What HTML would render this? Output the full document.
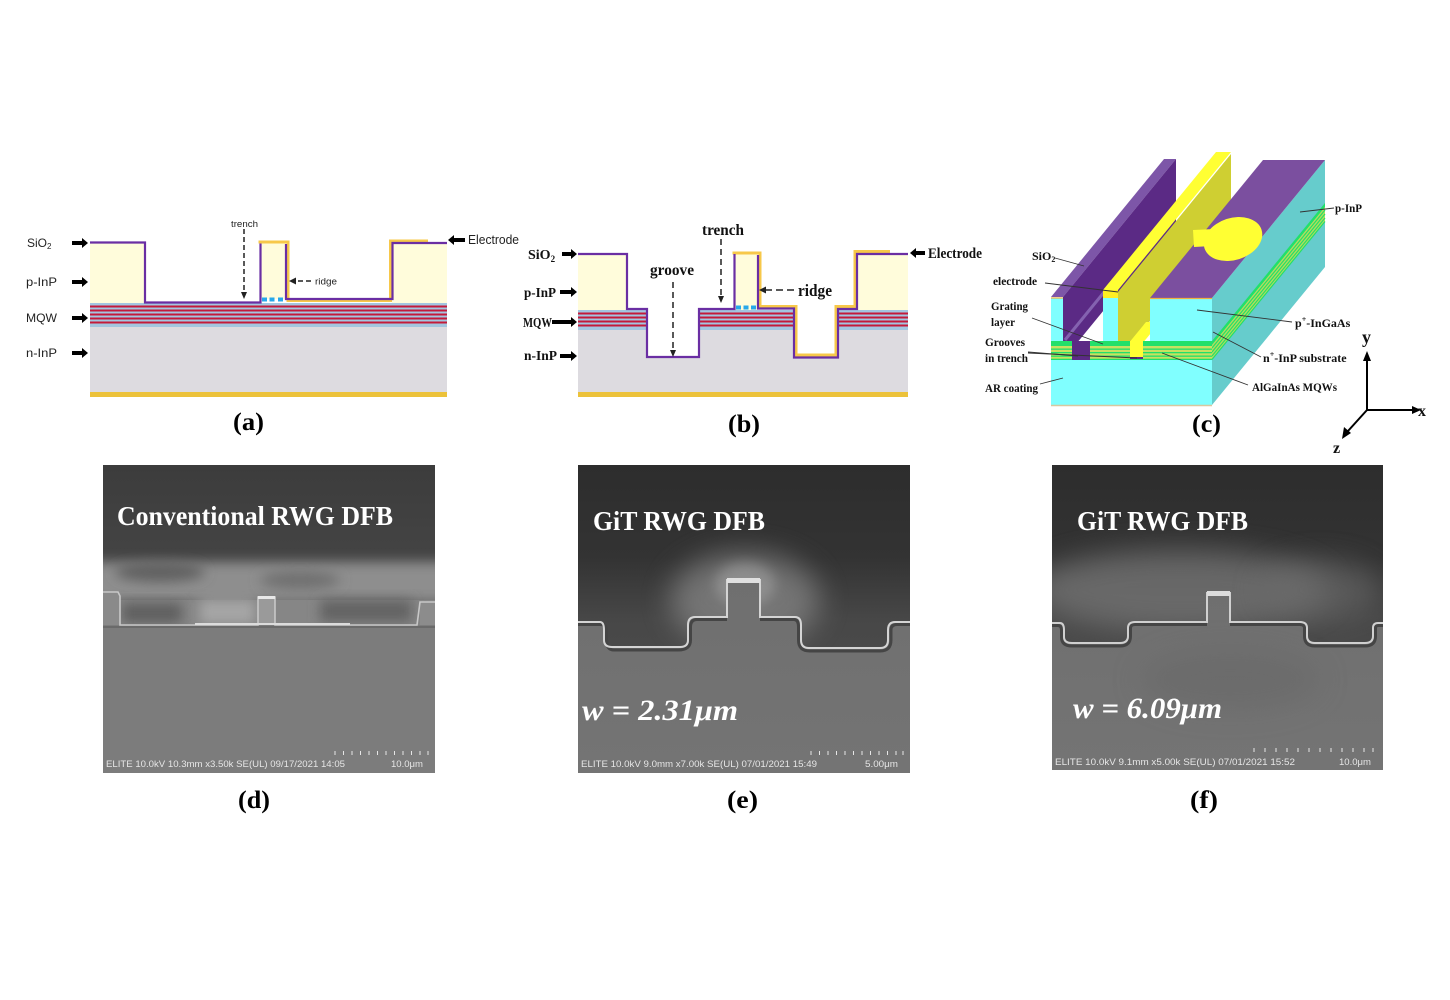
<!DOCTYPE html>
<html>
<head>
<meta charset="utf-8">
<style>
html,body{margin:0;padding:0;background:#fff;}
svg{display:block;}
.sa{font-family:"Liberation Sans",Arial,sans-serif;fill:#222;}
.sb{font-family:"Liberation Serif","Times New Roman",serif;font-weight:bold;fill:#111;}
.lab{font-family:"Liberation Serif","Times New Roman",serif;font-weight:bold;fill:#000;font-size:25px;}
.semt{font-family:"Liberation Sans",Arial,sans-serif;fill:#e6e6e6;font-size:9.5px;}
.semh{font-family:"Liberation Serif","Times New Roman",serif;font-weight:bold;fill:#fff;font-size:27px;}
.semw{font-family:"Liberation Serif","Times New Roman",serif;font-weight:bold;font-style:italic;fill:#fff;font-size:30px;}
</style>
</head>
<body>
<svg width="1450" height="1000" viewBox="0 0 1450 1000" xmlns="http://www.w3.org/2000/svg">
<defs>
  <filter id="b6" x="-50%" y="-50%" width="200%" height="200%"><feGaussianBlur stdDeviation="6"/></filter>
  <filter id="b12" x="-50%" y="-50%" width="200%" height="200%"><feGaussianBlur stdDeviation="14"/></filter>
  <filter id="b2"><feGaussianBlur stdDeviation="1.2"/></filter>
  <linearGradient id="gd" x1="0" y1="0" x2="0" y2="1">
    <stop offset="0" stop-color="#3c3c3c"/><stop offset="0.3" stop-color="#444"/><stop offset="0.45" stop-color="#5a5a5a"/><stop offset="1" stop-color="#5a5a5a"/>
  </linearGradient>
  <linearGradient id="ge" x1="0" y1="0" x2="0" y2="1">
    <stop offset="0" stop-color="#2d2d2d"/><stop offset="0.3" stop-color="#333"/><stop offset="0.5" stop-color="#474747"/><stop offset="1" stop-color="#555"/>
  </linearGradient>
  <linearGradient id="gg" x1="0" y1="0" x2="0" y2="1">
    <stop offset="0" stop-color="#6f6f6f"/><stop offset="1" stop-color="#747474"/>
  </linearGradient>
  <clipPath id="cd"><rect x="103" y="465" width="332" height="308"/></clipPath>
  <clipPath id="ce"><rect x="578" y="465" width="332" height="308"/></clipPath>
  <clipPath id="cf"><rect x="1052" y="465" width="331" height="305"/></clipPath>
</defs>

<!-- ================= (a) ================= -->
<g>
  <rect x="90" y="243" width="55" height="60" fill="#fffcdb"/>
  <rect x="260" y="243" width="26" height="56" fill="#fffcdb"/>
  <rect x="392" y="243" width="55" height="60" fill="#fffcdb"/>
  <rect x="90" y="303" width="357" height="24" fill="#a3c6e0"/>
  <rect x="90" y="305.5" width="357" height="2" fill="#c41a3a"/>
  <rect x="90" y="309.5" width="357" height="2" fill="#c41a3a"/>
  <rect x="90" y="313.5" width="357" height="2" fill="#c41a3a"/>
  <rect x="90" y="317.5" width="357" height="2" fill="#c41a3a"/>
  <rect x="90" y="321.5" width="357" height="2" fill="#c41a3a"/>
  <rect x="90" y="327" width="357" height="65" fill="#dddbe0"/>
  <rect x="90" y="392" width="357" height="5" fill="#ecc23a"/>
  <rect x="262" y="297.5" width="5" height="4" fill="#27a8ea"/>
  <rect x="269.5" y="297.5" width="5" height="4" fill="#27a8ea"/>
  <rect x="278" y="297.5" width="5" height="4" fill="#27a8ea"/>
  <path d="M258.5,242 H288 V300.5 H390.5 V241 H428" fill="none" stroke="#f7c84a" stroke-width="3"/>
  <path d="M90,242.5 H145 V302.5 H260.5 V243.5" fill="none" stroke="#6a2ea3" stroke-width="2.2"/>
  <path d="M286,244 V299 H392.5 V243 H447" fill="none" stroke="#6a2ea3" stroke-width="2.2"/>
  <line x1="244" y1="229" x2="244" y2="292" stroke="#222" stroke-width="1.5" stroke-dasharray="5,3"/>
  <polygon points="241,292 247,292 244,299" fill="#222"/>
  <line x1="311" y1="281" x2="296" y2="281" stroke="#222" stroke-width="1.5" stroke-dasharray="5,3"/>
  <polygon points="296,277.5 296,284.5 289,281" fill="#222"/>
  <polygon points="72,241 82,241 82,238 88,243 82,248 82,245 72,245" fill="#000"/>
  <polygon points="72,280 82,280 82,277 88,282 82,287 82,284 72,284" fill="#000"/>
  <polygon points="72,316 82,316 82,313 88,318 82,323 82,320 72,320" fill="#000"/>
  <polygon points="72,351 82,351 82,348 88,353 82,358 82,355 72,355" fill="#000"/>
  <polygon points="465,238 454,238 454,235 448,240 454,245 454,242 465,242" fill="#000"/>
  <text class="sa" x="27" y="247" font-size="12">SiO<tspan font-size="8" dy="2">2</tspan></text>
  <text class="sa" x="26" y="286" font-size="12" textLength="31" lengthAdjust="spacingAndGlyphs">p-InP</text>
  <text class="sa" x="26" y="322" font-size="12" textLength="31" lengthAdjust="spacingAndGlyphs">MQW</text>
  <text class="sa" x="26" y="357" font-size="12" textLength="31" lengthAdjust="spacingAndGlyphs">n-InP</text>
  <text class="sa" x="468" y="244" font-size="12.5" textLength="51" lengthAdjust="spacingAndGlyphs">Electrode</text>
  <text class="sa" x="231" y="227" font-size="9" textLength="27" lengthAdjust="spacingAndGlyphs">trench</text>
  <text class="sa" x="315" y="284.5" font-size="9.5" textLength="22" lengthAdjust="spacingAndGlyphs">ridge</text>
  <text class="lab" x="233" y="430" textLength="31" lengthAdjust="spacingAndGlyphs">(a)</text>
</g>

<!-- ================= (b) ================= -->
<g>
  <rect x="578" y="254" width="49" height="56" fill="#fffcdb"/>
  <rect x="734" y="254" width="24" height="56" fill="#fffcdb"/>
  <rect x="857" y="254" width="51" height="56" fill="#fffcdb"/>
  <rect x="578" y="310" width="330" height="20" fill="#a3c6e0"/>
  <rect x="578" y="312.5" width="330" height="2" fill="#c41a3a"/>
  <rect x="578" y="316.5" width="330" height="2" fill="#c41a3a"/>
  <rect x="578" y="320.5" width="330" height="2" fill="#c41a3a"/>
  <rect x="578" y="324.5" width="330" height="2" fill="#c41a3a"/>
  <rect x="578" y="330" width="330" height="62" fill="#dddbe0"/>
  <rect x="647" y="308" width="52" height="49" fill="#fff"/>
  <rect x="794" y="308" width="44" height="49" fill="#fff"/>
  <rect x="578" y="392" width="330" height="5" fill="#ecc23a"/>
  <rect x="736" y="305.5" width="5" height="4" fill="#27a8ea"/>
  <rect x="743.5" y="305.5" width="5" height="4" fill="#27a8ea"/>
  <rect x="751" y="305.5" width="5" height="4" fill="#27a8ea"/>
  <path d="M732.5,253 H760 V306.5 H796 V355 H836 V306.5 H855 V251.5 H890" fill="none" stroke="#f7c84a" stroke-width="3"/>
  <path d="M578,254 H627 V309 H647 V357 H699 V309 H734.5 V254" fill="none" stroke="#6a2ea3" stroke-width="2.2"/>
  <path d="M758,255 V308.5 H794 V357.5 H838 V309 H857 V254 H908" fill="none" stroke="#6a2ea3" stroke-width="2.2"/>
  <line x1="673" y1="282" x2="673" y2="350" stroke="#222" stroke-width="1.5" stroke-dasharray="6,4"/>
  <polygon points="670,350 676,350 673,357" fill="#222"/>
  <line x1="721" y1="239" x2="721" y2="296" stroke="#222" stroke-width="1.5" stroke-dasharray="6,4"/>
  <polygon points="718,296 724,296 721,303" fill="#222"/>
  <line x1="794" y1="290" x2="766" y2="290" stroke="#222" stroke-width="1.6" stroke-dasharray="7,4"/>
  <polygon points="766,286.5 766,293.5 759,290" fill="#222"/>
  <polygon points="562,252 571,252 571,249 577,254 571,259 571,256 562,256" fill="#000"/>
  <polygon points="560,290 571,290 571,287 577,292 571,297 571,294 560,294" fill="#000"/>
  <polygon points="552,320 571,320 571,317 577,322 571,327 571,324 552,324" fill="#000"/>
  <polygon points="560,354 571,354 571,351 577,356 571,361 571,358 560,358" fill="#000"/>
  <polygon points="925,251 916,251 916,248 910,253 916,258 916,255 925,255" fill="#000"/>
  <text class="sb" x="528" y="259" font-size="14">SiO<tspan font-size="9" dy="3">2</tspan></text>
  <text class="sb" x="524" y="297" font-size="14" textLength="32" lengthAdjust="spacingAndGlyphs">p-InP</text>
  <text class="sb" x="523" y="327" font-size="14" textLength="29" lengthAdjust="spacingAndGlyphs">MQW</text>
  <text class="sb" x="524" y="360" font-size="14" textLength="33" lengthAdjust="spacingAndGlyphs">n-InP</text>
  <text class="sb" x="928" y="258" font-size="15" textLength="54" lengthAdjust="spacingAndGlyphs">Electrode</text>
  <text class="sb" x="650" y="275" font-size="16" textLength="44" lengthAdjust="spacingAndGlyphs">groove</text>
  <text class="sb" x="702" y="235" font-size="16" textLength="42" lengthAdjust="spacingAndGlyphs">trench</text>
  <text class="sb" x="798" y="296" font-size="17" textLength="34" lengthAdjust="spacingAndGlyphs">ridge</text>
  <text class="lab" x="728" y="432" textLength="32" lengthAdjust="spacingAndGlyphs">(b)</text>
</g>

<!-- ================= (c) ================= -->
<g>
  <polygon points="1212,298 1325,160 1325,267 1212,405" fill="#66cccc"/>
  <polygon points="1212,341 1325,203 1325,207 1212,345" fill="#22e06a"/>
  <polygon points="1212,345 1325,207 1325,221 1212,359" fill="#b8dc5a"/>
  <line x1="1212" y1="348" x2="1325" y2="210" stroke="#22e06a" stroke-width="1.2"/>
  <line x1="1212" y1="352" x2="1325" y2="214" stroke="#22e06a" stroke-width="1.2"/>
  <line x1="1212" y1="356" x2="1325" y2="218" stroke="#22e06a" stroke-width="1.2"/>
  <line x1="1212" y1="359.5" x2="1325" y2="221.5" stroke="#22e06a" stroke-width="1.2"/>
  <polygon points="1051,297 1063,297 1176,159 1164,159" fill="#7d56a8"/>
  <polygon points="1063,297 1176,159 1176,222 1063,360" fill="#5b2a85"/>
  <line x1="1065" y1="340" x2="1105" y2="291" stroke="#8462b0" stroke-width="3"/>
  <polygon points="1118,292 1231,154 1231,222 1118,360" fill="#cfcf32"/>
  <polygon points="1103,290 1118,290 1231,152 1216,152" fill="#ffff33"/>
  <polygon points="1128,344 1142,344 1160,322 1146,322" fill="#ffff33"/>
  <polygon points="1150,298 1212,298 1325,160 1263,160" fill="#7b4f9f"/>
  <polygon points="1193,230 1215,229 1212,246 1194,247" fill="#ffff33"/>
  <ellipse cx="1233" cy="239" rx="30" ry="21" transform="rotate(-18 1233 239)" fill="#ffff33"/>
  <rect x="1051" y="342" width="161" height="63" fill="#80ffff"/>
  <rect x="1051" y="298" width="12" height="44" fill="#80ffff"/>
  <rect x="1103" y="298" width="15" height="44" fill="#80ffff"/>
  <rect x="1150" y="298" width="62" height="44" fill="#80ffff"/>
  <rect x="1103" y="290" width="15" height="8" fill="#ffee22"/>
  <line x1="1051" y1="298" x2="1063" y2="298" stroke="#f0b040" stroke-width="1.2"/>
  <line x1="1150" y1="298.5" x2="1212" y2="298.5" stroke="#f0b040" stroke-width="1.2"/>
  <rect x="1051" y="341" width="161" height="5" fill="#22e06a"/>
  <rect x="1051" y="346" width="161" height="14" fill="#c8e060"/>
  <rect x="1051" y="348.5" width="161" height="1.3" fill="#22e06a"/>
  <rect x="1051" y="352" width="161" height="1.3" fill="#22e06a"/>
  <rect x="1051" y="355.5" width="161" height="1.3" fill="#22e06a"/>
  <rect x="1051" y="358.7" width="161" height="1.3" fill="#22e06a"/>
  <rect x="1072" y="341" width="18" height="19" fill="#5b2a85"/>
  <rect x="1130" y="341" width="13" height="17" fill="#ffff33"/>
  <rect x="1130" y="357" width="13" height="2" fill="#5b2a85"/>
  <line x1="1051" y1="405.5" x2="1212" y2="405.5" stroke="#d8c8a0" stroke-width="1.5"/>
  <g stroke="#333" stroke-width="0.9" fill="none">
    <line x1="1300" y1="212" x2="1334" y2="208"/>
    <line x1="1055" y1="258" x2="1084" y2="266"/>
    <line x1="1045" y1="283" x2="1118" y2="292"/>
    <line x1="1032" y1="318" x2="1103" y2="344"/>
    <line x1="1028" y1="352" x2="1078" y2="356"/>
    <line x1="1028" y1="353" x2="1137" y2="358"/>
    <line x1="1040" y1="384" x2="1063" y2="378"/>
    <line x1="1197" y1="310" x2="1292" y2="322"/>
    <line x1="1213" y1="332" x2="1261" y2="357"/>
    <line x1="1162" y1="353" x2="1248" y2="385"/>
  </g>
  <text class="sb" x="1335" y="212" font-size="12" textLength="27" lengthAdjust="spacingAndGlyphs">p-InP</text>
  <text class="sb" x="1032" y="260" font-size="12">SiO<tspan font-size="8" dy="2">2</tspan></text>
  <text class="sb" x="993" y="285" font-size="12" textLength="44" lengthAdjust="spacingAndGlyphs">electrode</text>
  <text class="sb" x="991" y="310" font-size="12" textLength="37" lengthAdjust="spacingAndGlyphs">Grating</text>
  <text class="sb" x="991" y="326" font-size="12" textLength="24" lengthAdjust="spacingAndGlyphs">layer</text>
  <text class="sb" x="985" y="346" font-size="12" textLength="40" lengthAdjust="spacingAndGlyphs">Grooves</text>
  <text class="sb" x="985" y="362" font-size="12" textLength="43" lengthAdjust="spacingAndGlyphs">in trench</text>
  <text class="sb" x="985" y="392" font-size="12" textLength="53" lengthAdjust="spacingAndGlyphs">AR coating</text>
  <text class="sb" x="1295" y="327" font-size="12">p<tspan font-size="8" dy="-5">+</tspan><tspan dy="5">-InGaAs</tspan></text>
  <text class="sb" x="1263" y="362" font-size="12">n<tspan font-size="8" dy="-5">+</tspan><tspan dy="5">-InP substrate</tspan></text>
  <text class="sb" x="1252" y="391" font-size="12" textLength="85" lengthAdjust="spacingAndGlyphs">AlGaInAs MQWs</text>
  <g stroke="#000" stroke-width="2" fill="none">
    <line x1="1367" y1="410" x2="1367" y2="360"/>
    <line x1="1367" y1="410" x2="1413" y2="410"/>
    <line x1="1367" y1="410" x2="1348" y2="431"/>
  </g>
  <polygon points="1363,361 1371,361 1367,351" fill="#000"/>
  <polygon points="1412,406 1412,414 1421,410" fill="#000"/>
  <polygon points="1344,427 1351,433 1342,439" fill="#000"/>
  <text class="sb" x="1362" y="343" font-size="18">y</text>
  <text class="sb" x="1418" y="416" font-size="16">x</text>
  <text class="sb" x="1333" y="453" font-size="16">z</text>
  <text class="lab" x="1192" y="432" textLength="29" lengthAdjust="spacingAndGlyphs">(c)</text>
</g>

<!-- ================= (d) SEM ================= -->
<g clip-path="url(#cd)">
  <rect x="103" y="465" width="332" height="308" fill="url(#gd)"/>
  <rect x="80" y="562" width="380" height="40" fill="#8e8e8e" filter="url(#b6)"/>
  <ellipse cx="160" cy="572" rx="45" ry="10" fill="#606060" filter="url(#b6)"/>
  <ellipse cx="300" cy="580" rx="40" ry="9" fill="#707070" filter="url(#b6)"/>
  <rect x="103" y="600" width="332" height="25" fill="#868686"/>
  <rect x="122" y="603" width="60" height="20" fill="#5e5e5e" filter="url(#b6)"/>
  <rect x="320" y="600" width="92" height="22" fill="#646464" filter="url(#b6)"/>
  <rect x="200" y="600" width="55" height="24" fill="#a6a6a6" filter="url(#b6)"/>
  <rect x="103" y="592" width="17" height="33" fill="#8a8a8a"/>
  <rect x="420" y="602" width="15" height="23" fill="#8c8c8c"/>
  <rect x="103" y="625" width="332" height="150" fill="#7c7c7c"/>
  <rect x="258" y="597" width="17" height="28" fill="#9a9a9a"/>
  <path d="M103,592 H118 L120,596 V625 H258 V597 H275 V625 H417 L420,602 H435" fill="none" stroke="#c8c8c8" stroke-width="1.6"/>
  <line x1="195" y1="624" x2="350" y2="624" stroke="#dcdcdc" stroke-width="2"/>
  <rect x="258" y="596" width="17" height="3" fill="#e8e8e8"/>
  <line x1="103" y1="627" x2="435" y2="627" stroke="#555" stroke-width="1.5" opacity="0.6"/>
  <text class="semh" x="117" y="525" textLength="276" lengthAdjust="spacingAndGlyphs">Conventional RWG DFB</text>
  <g stroke="#e6e6e6" stroke-width="1">
    <line x1="335" y1="751" x2="335" y2="755"/><line x1="343.5" y1="751" x2="343.5" y2="755"/><line x1="352" y1="751" x2="352" y2="755"/><line x1="360.5" y1="751" x2="360.5" y2="755"/><line x1="369" y1="751" x2="369" y2="755"/><line x1="377.5" y1="751" x2="377.5" y2="755"/><line x1="386" y1="751" x2="386" y2="755"/><line x1="394.5" y1="751" x2="394.5" y2="755"/><line x1="403" y1="751" x2="403" y2="755"/><line x1="411.5" y1="751" x2="411.5" y2="755"/><line x1="420" y1="751" x2="420" y2="755"/><line x1="428" y1="751" x2="428" y2="755"/>
  </g>
  <text class="semt" x="106" y="767" textLength="239" lengthAdjust="spacingAndGlyphs">ELITE 10.0kV 10.3mm x3.50k SE(UL) 09/17/2021 14:05</text>
  <text class="semt" x="391" y="767" textLength="32" lengthAdjust="spacingAndGlyphs">10.0μm</text>
</g>
<text class="lab" x="238" y="808" textLength="32" lengthAdjust="spacingAndGlyphs">(d)</text>

<!-- ================= (e) SEM ================= -->
<g clip-path="url(#ce)">
  <rect x="578" y="465" width="332" height="308" fill="url(#ge)"/>
  <ellipse cx="745" cy="600" rx="75" ry="48" fill="#8a8a8a" opacity="0.7" filter="url(#b12)"/>
  <ellipse cx="745" cy="585" rx="30" ry="22" fill="#a0a0a0" opacity="0.6" filter="url(#b6)"/>
  <path d="M578,622 H600 Q604,622 604,630 V640 Q604,647 612,647 H680 Q688,647 688,640 V625 Q688,617 695,617 H727 V580 H760 V617 H795 Q801,617 801,625 V640 Q801,648 809,648 H880 Q888,648 888,640 V630 Q888,622 895,622 H910 V773 H578 Z" fill="url(#gg)"/>
  <path d="M578,624.5 H600 Q606.5,624.5 606.5,630 V640 Q606.5,650 614,650 H678 Q690.5,650 690.5,640 V627 Q690.5,619.5 697,619.5 H727" fill="none" stroke="#454545" stroke-width="3"/>
  <path d="M760,619.5 H794 Q798.5,619.5 798.5,627 V640 Q798.5,651 810,651 H880 Q891,651 891,640 V630 Q891,624.5 897,624.5 H910" fill="none" stroke="#454545" stroke-width="3"/>
  <path d="M578,622 H600 Q604,622 604,630 V640 Q604,647 612,647 H680 Q688,647 688,640 V625 Q688,617 695,617 H727 V580 H760 V617 H795 Q801,617 801,625 V640 Q801,648 809,648 H880 Q888,648 888,640 V630 Q888,622 895,622 H910" fill="none" stroke="#d4d4d4" stroke-width="2"/>
  <rect x="727" y="578" width="33" height="5" fill="#e0e0e0"/>
  <text class="semh" x="593" y="530" textLength="172" lengthAdjust="spacingAndGlyphs">GiT RWG DFB</text>
  <text class="semw" x="582" y="720" textLength="156" lengthAdjust="spacingAndGlyphs">w = 2.31μm</text>
  <g stroke="#e6e6e6" stroke-width="1">
    <line x1="811" y1="751" x2="811" y2="755"/><line x1="819.5" y1="751" x2="819.5" y2="755"/><line x1="828" y1="751" x2="828" y2="755"/><line x1="836.5" y1="751" x2="836.5" y2="755"/><line x1="845" y1="751" x2="845" y2="755"/><line x1="853.5" y1="751" x2="853.5" y2="755"/><line x1="862" y1="751" x2="862" y2="755"/><line x1="870.5" y1="751" x2="870.5" y2="755"/><line x1="879" y1="751" x2="879" y2="755"/><line x1="887.5" y1="751" x2="887.5" y2="755"/><line x1="896" y1="751" x2="896" y2="755"/><line x1="903" y1="751" x2="903" y2="755"/>
  </g>
  <text class="semt" x="581" y="767" textLength="236" lengthAdjust="spacingAndGlyphs">ELITE 10.0kV 9.0mm x7.00k SE(UL) 07/01/2021 15:49</text>
  <text class="semt" x="865" y="767" textLength="33" lengthAdjust="spacingAndGlyphs">5.00μm</text>
</g>
<text class="lab" x="727" y="808" textLength="31" lengthAdjust="spacingAndGlyphs">(e)</text>

<!-- ================= (f) SEM ================= -->
<g clip-path="url(#cf)">
  <rect x="1052" y="465" width="331" height="305" fill="url(#ge)"/>
  <ellipse cx="1180" cy="590" rx="150" ry="40" fill="#7a7a7a" opacity="0.7" filter="url(#b12)"/>
  <ellipse cx="1320" cy="590" rx="60" ry="30" fill="#6a6a6a" opacity="0.6" filter="url(#b12)"/>
  <path d="M1052,623 H1060 Q1064,623 1064,630 V637 Q1064,643 1072,643 H1120 Q1128,643 1128,636 V628 Q1128,622 1135,622 H1207 V593 H1230 V622 H1300 Q1307,622 1307,628 V636 Q1307,643 1315,643 H1365 Q1373,643 1373,636 V628 Q1373,623 1378,623 H1383 V770 H1052 Z" fill="url(#gg)"/>
  <ellipse cx="1230" cy="680" rx="90" ry="30" fill="#666" opacity="0.5" filter="url(#b12)"/>
  <path d="M1052,625.5 H1058 Q1061.5,625.5 1061.5,630 V637 Q1061.5,646 1072,646 H1120 Q1130.5,646 1130.5,636 V628 Q1130.5,624.5 1135,624.5 H1207" fill="none" stroke="#454545" stroke-width="3"/>
  <path d="M1230,624.5 H1300 Q1304.5,624.5 1304.5,628 V636 Q1304.5,646 1315,646 H1365 Q1375.5,646 1375.5,636 V628 Q1375.5,625.5 1378,625.5 H1383" fill="none" stroke="#454545" stroke-width="3"/>
  <path d="M1052,623 H1060 Q1064,623 1064,630 V637 Q1064,643 1072,643 H1120 Q1128,643 1128,636 V628 Q1128,622 1135,622 H1207 V593 H1230 V622 H1300 Q1307,622 1307,628 V636 Q1307,643 1315,643 H1365 Q1373,643 1373,636 V628 Q1373,623 1378,623 H1383" fill="none" stroke="#d0d0d0" stroke-width="2"/>
  <rect x="1207" y="591" width="23" height="5" fill="#dcdcdc"/>
  <text class="semh" x="1077" y="530" textLength="171" lengthAdjust="spacingAndGlyphs">GiT RWG DFB</text>
  <text class="semw" x="1073" y="718" textLength="149" lengthAdjust="spacingAndGlyphs">w = 6.09μm</text>
  <g stroke="#e6e6e6" stroke-width="1">
    <line x1="1254" y1="748" x2="1254" y2="752"/><line x1="1265" y1="748" x2="1265" y2="752"/><line x1="1276" y1="748" x2="1276" y2="752"/><line x1="1287" y1="748" x2="1287" y2="752"/><line x1="1298" y1="748" x2="1298" y2="752"/><line x1="1309" y1="748" x2="1309" y2="752"/><line x1="1320" y1="748" x2="1320" y2="752"/><line x1="1331" y1="748" x2="1331" y2="752"/><line x1="1342" y1="748" x2="1342" y2="752"/><line x1="1353" y1="748" x2="1353" y2="752"/><line x1="1364" y1="748" x2="1364" y2="752"/><line x1="1373" y1="748" x2="1373" y2="752"/>
  </g>
  <text class="semt" x="1055" y="765" textLength="240" lengthAdjust="spacingAndGlyphs">ELITE 10.0kV 9.1mm x5.00k SE(UL) 07/01/2021 15:52</text>
  <text class="semt" x="1339" y="765" textLength="32" lengthAdjust="spacingAndGlyphs">10.0μm</text>
</g>
<text class="lab" x="1190" y="808" textLength="28" lengthAdjust="spacingAndGlyphs">(f)</text>
</svg>
</body>
</html>
